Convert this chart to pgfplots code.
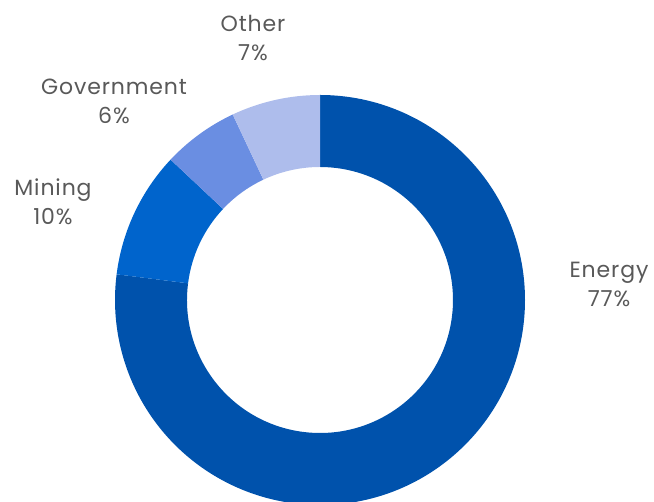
\documentclass[border=0pt]{standalone}
\usepackage{pgfplots}
\pgfplotsset{compat=1.18}
\usepackage{pgfplotstable}
\usepackage{fontspec}
\setmainfont[LetterSpace=4]{Poppins}

\definecolor{cEnergy}{RGB}{0,82,172}
\definecolor{cMining}{RGB}{0,100,204}
\definecolor{cGov}{RGB}{106,142,226}
\definecolor{cOther}{RGB}{174,189,236}
\definecolor{labelgray}{RGB}{89,89,89}

\pgfplotstableread{
sector     share
Energy     77
Mining     10
Government 6
Other      7
}\shares

% cumulative angles, clockwise from 12 o'clock
\pgfplotstablegetelem{0}{share}\of\shares \let\vA\pgfplotsretval
\pgfplotstablegetelem{1}{share}\of\shares \let\vB\pgfplotsretval
\pgfplotstablegetelem{2}{share}\of\shares \let\vC\pgfplotsretval
\pgfplotstablegetelem{3}{share}\of\shares \let\vD\pgfplotsretval
\pgfmathsetmacro{\aA}{90}
\pgfmathsetmacro{\aB}{90-3.6*\vA}
\pgfmathsetmacro{\aC}{\aB-3.6*\vB}
\pgfmathsetmacro{\aD}{\aC-3.6*\vC}
\pgfmathsetmacro{\aE}{\aD-3.6*\vD}

\def\cx{320}\def\cy{202}\def\ro{205}\def\ri{133}

% annular sector between two angles
\newcommand{\ring}[3]{%
  \fill[#3] (axis cs:{\cx+\ro*cos(#1)},{\cy+\ro*sin(#1)})
    arc[start angle=#1, end angle=#2, radius=\ro]
    -- (axis cs:{\cx+\ri*cos(#2)},{\cy+\ri*sin(#2)})
    arc[start angle=#2, end angle=#1, radius=\ri] -- cycle;}

\begin{document}
\begin{tikzpicture}
\begin{axis}[
  x=1pt, y=1pt,
  xmin=0, xmax=654, ymin=0, ymax=502,
  hide axis,
  clip=true,
]
\ring{\aA}{\aB}{cEnergy}
\ring{\aB}{\aC}{cMining}
\ring{\aC}{\aD}{cGov}
\ring{\aD}{\aE}{cOther}

\begin{scope}[every node/.style={align=center, text=labelgray, font=\fontsize{22}{29}\selectfont}]
\node at (axis cs:253,464) {Other\\\vD\%};
\node at (axis cs:114,401) {Government\\\vC\%};
\node at (axis cs:53,300) {Mining\\\vB\%};
\node at (axis cs:609,218) {Energy\\\vA\%};
\end{scope}
\end{axis}
\path (current axis.south west) rectangle (current axis.north east);
\end{tikzpicture}
\end{document}
